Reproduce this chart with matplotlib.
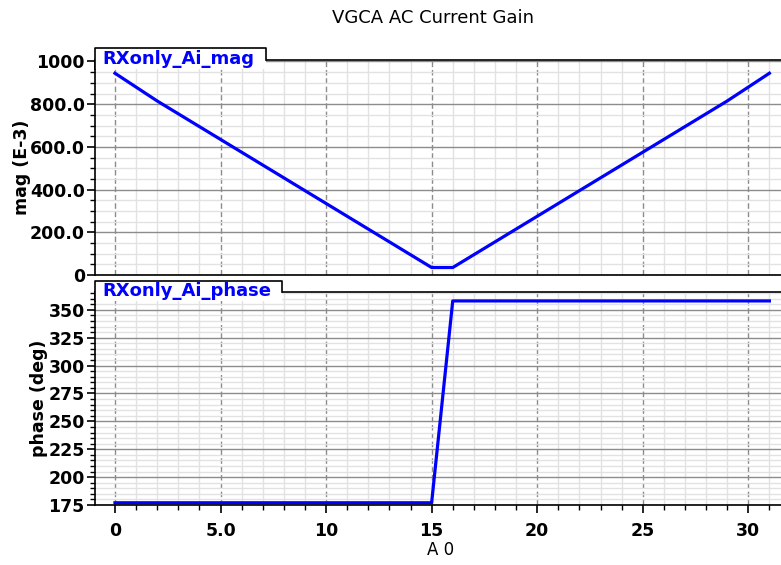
import numpy as np
import matplotlib
matplotlib.use("Agg")
import matplotlib.pyplot as plt
from matplotlib.ticker import MultipleLocator
from matplotlib.patches import Rectangle
from matplotlib.lines import Line2D

# sweep of the control word A 0
a0 = list(range(0, 32))
mag = [945, 880, 815, 755, 695, 635, 575, 515, 455, 395, 335, 275, 215, 155, 95, 35,
       35, 95, 155, 215, 275, 335, 395, 455, 515, 575, 635, 695, 755, 815, 880, 945]
phase = [177] * 16 + [358] * 16

mag_ticks = [0, 200, 400, 600, 800, 1000]
mag_labels = ["0", "200.0", "400.0", "600.0", "800.0", "1000"]
phase_ticks = [175, 200, 225, 250, 275, 300, 325, 350]
x_ticks = [0, 5, 10, 15, 20, 25, 30]
x_labels = ["0", "5.0", "10", "15", "20", "25", "30"]

BLUE = "#0000ff"
W, H = 781, 565

fig = plt.figure(figsize=(W / 100, H / 100), dpi=100)
ax1 = fig.add_axes([94.5 / W, 1 - 275 / H, 1 - 94.5 / W, 215 / H])
ax2 = fig.add_axes([94.5 / W, 1 - 505 / H, 1 - 94.5 / W, 213 / H])


def style(ax, yt, ylabels, ymin_step, name, tab_right):
    ax.set_xlim(-0.97, 31.55)
    ax.set_xticks(x_ticks)
    ax.xaxis.set_minor_locator(MultipleLocator(1))
    ax.set_yticks(yt)
    if ylabels is not None:
        ax.set_yticklabels(ylabels)
    ax.yaxis.set_minor_locator(MultipleLocator(ymin_step))
    ax.spines["right"].set_visible(False)
    for s in ("left", "bottom", "top"):
        ax.spines[s].set_linewidth(1.2)
    ax.tick_params(which="major", direction="out", length=6, width=1.2,
                   labelsize=12.5, pad=1)
    ax.tick_params(which="minor", direction="out", length=3.5, width=1)
    for lab in ax.get_yticklabels() + ax.get_xticklabels():
        lab.set_fontweight("bold")
    ax.grid(which="minor", color="#e2e2e2", linewidth=1, linestyle="-")
    ax.grid(which="major", axis="y", color="#8c8c8c", linewidth=1, linestyle="-")
    ax.grid(which="major", axis="x", color="#8c8c8c", linewidth=1, linestyle=(0, (4, 2)))
    ax.set_axisbelow(True)

    # name tab in the upper-left corner
    h = ax.bbox.height
    top = 1 + 11.5 / h
    ax.add_patch(Rectangle((0, 1 - 9 / h), tab_right, top - (1 - 9 / h),
                           transform=ax.transAxes, facecolor="white",
                           edgecolor="none", clip_on=False, zorder=3))
    ax.add_line(Line2D([0, 0, tab_right, tab_right], [1 - 9 / h, top, top, 1],
                       transform=ax.transAxes, color="black", linewidth=1.2,
                       clip_on=False, zorder=4))
    ax.text(0.011, 1 + 1 / h, name, transform=ax.transAxes, color=BLUE,
            fontsize=13, fontweight="bold", va="center", ha="left", zorder=5)


style(ax1, mag_ticks, mag_labels, 50, "RXonly_Ai_mag", (266 - 94.5) / (W - 94.5))
ax1.set_ylim(0, 1007)
ax1.tick_params(axis="x", which="both", bottom=False, labelbottom=False)
ax1.plot(a0, mag, color=BLUE, linewidth=2.3, zorder=2)

style(ax2, phase_ticks, None, 5, "RXonly_Ai_phase", (281.7 - 94.5) / (W - 94.5))
ax2.set_ylim(175, 366)
ax2.set_xticklabels(x_labels)
for lab in ax2.get_xticklabels():
    lab.set_fontweight("bold")
ax2.tick_params(axis="x", which="major", pad=6)
ax2.plot(a0, phase, color=BLUE, linewidth=2.3, zorder=2)

fig.text(22 / W, 1 - 167 / H, "mag (E-3)", rotation=90, ha="center", va="center",
         fontsize=12.5, fontweight="bold")
fig.text(39 / W, 1 - 398 / H, "phase (deg)", rotation=90, ha="center", va="center",
         fontsize=12.5, fontweight="bold")
fig.text(441 / W, 1 - 550 / H, "A 0", ha="center", va="center", fontsize=12)
fig.text(433 / W, 1 - 18 / H, "VGCA AC Current Gain", ha="center", va="center",
         fontsize=13)

fig.savefig("out.png", dpi=100)
